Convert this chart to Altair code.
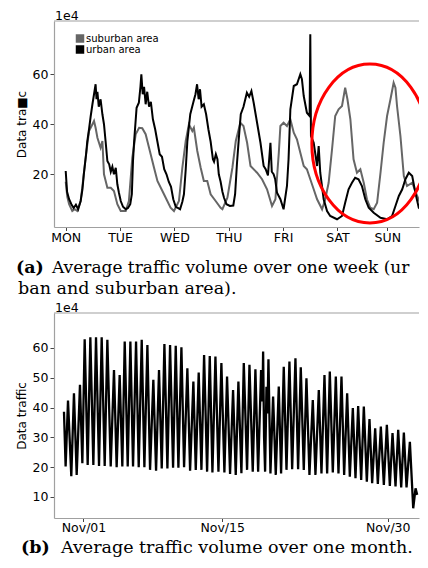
import altair as alt
import pandas as pd

FONT = "DejaVu Sans"
SERIF = "DejaVu Serif"
SPINE = "#a0a0a0"
TICK = "#444444"

# ---------------- (a) one week ----------------
week_hours_urban = [0, 0.6, 1.5, 2.5, 3.5, 4.5, 5.5, 6.6, 7.4, 8, 9, 9.5, 10.3, 11, 11.8, 12.5, 13.2, 13.6, 14, 14.6,
                    15.4, 16.2, 16.9, 17.6, 18.4, 19.2, 19.9, 20.6, 21.3, 22.1, 22.8, 23.5, 24.3, 25.3, 26.5, 27.5,
                    28.5, 29.2, 29.7, 30.2, 31.3, 32.3, 33, 33.4, 34, 34.6, 35.3, 36, 36.8, 37.6, 38.5, 39.5, 40.5,
                    41.5, 42.5, 43.5, 44.5, 45.5, 46.5, 47.5, 48.6, 49.5, 50.5, 51.5, 52.2, 53, 53.7, 55, 56.5, 57.3,
                    58, 58.7, 59.3, 60, 61, 62, 63, 64, 65, 65.5, 66.3, 67, 67.6, 68.4, 69.2, 69.9, 71, 72.5, 74,
                    74.8, 75.6, 76.5, 77.3, 78.5, 80, 81, 82, 83, 84.5, 86, 87.4, 88.3, 89.3, 90.4, 91, 91.8, 92.5,
                    93.3, 94.8, 96.2, 97.7, 98.4, 99.2, 100.7, 102.1, 103.6, 104.3, 105.1, 106.5, 107.7, 108, 108.3,
                    109.5, 111, 111.7, 112.4, 113.9, 115.4, 116.8, 119.8, 122, 123.4, 124.9, 126.4, 127.8, 129.3,
                    130.8, 132.3, 133.8, 136, 139, 141.9, 144.1, 145.6, 147.1, 148.6, 150, 151.5, 153, 154.4, 155.9,
                    157.4, 158.6]
week_urban = [21.3, 13, 10, 8, 6.5, 7.8, 6, 9.3, 14, 20, 28, 33, 38, 43, 48, 52, 56, 50, 53, 47,
              50, 44, 40, 33.3, 25.3, 24, 21, 23, 20, 22.6, 16, 12.6, 9.3, 7, 6, 6.5,
              8, 12, 25, 33, 46.6, 48.6, 55, 60, 52, 55, 48, 53, 47, 49, 42, 38, 33,
              28, 27, 22, 20, 17, 15, 10, 7, 6.5, 6, 9, 12, 22, 33, 44, 49.3, 52,
              56, 50, 54, 47, 48, 44, 38, 33, 26, 25, 28, 26, 20, 17, 13, 10.6, 8, 7.3, 7.5,
              12, 24, 35, 44, 47, 52.6, 51, 53.3, 48.6, 40.6, 32.6, 23.3, 22, 19.5, 32.6, 21, 20, 18,
              12.6, 10, 6, 15.3, 26, 46, 55.3, 56, 60, 58, 51.3, 44.6, 43.3, 76, 35.3,
              32.6, 23.3, 31.3, 20.6, 10, 5.3, 3.3, 2, 3.3, 8.6, 14, 16.6, 18.6, 18,
              15.3, 10, 6.6, 4.6, 2.6, 2, 3.3, 7.3, 11.3, 14, 18, 20.6, 19.3, 12.6, 6.6,
              5.3, 5.3]

week_hours_suburban = [0, 0.7, 1.5, 2.9, 4, 5.1, 6.6, 7.3, 8.8, 10.3, 11.8, 12.5, 13.2, 14, 15.4, 16.2, 16.9, 18.4,
                       19.9, 21.3, 22.8, 24.3, 26.5, 27.9, 29.4, 30.9, 32.4, 33.8, 35.3, 36.8, 39, 40.5, 43.4,
                       46.3, 47.8, 50, 51.5, 53, 54.4, 55.9, 56.6, 58.1, 59.6, 61, 62.5, 64, 66.2, 68.4, 69.2,
                       71.4, 73.6, 75.1, 77.1, 78.5, 80.1, 81.6, 84.5, 86.7, 88.9, 91.1, 92.6, 94.1, 94.8, 96.2,
                       97.7, 99.2, 100.7, 102.1, 103.6, 105.1, 106.5, 108, 109.5, 111, 113.2, 114.6, 116.1, 117.6,
                       119, 120.5, 122, 123.4, 124.4, 125.7, 127.1, 128.6, 130.1, 131.6, 133, 134.5, 136, 137.5,
                       139, 140.4, 141.9, 143.4, 144.8, 145.6, 146.3, 147.8, 149.3, 150.7, 153, 155.2, 157.4, 158.6]
week_suburban = [17, 11, 8, 5.3, 6, 5.3, 9.3, 14.6, 26.6, 37.3, 40, 41.3, 38.6, 34.6, 30.6, 33.3, 20, 14.6,
                 14.6, 13.3, 8, 5.3, 5.3, 9.3, 26.6, 36, 38.6, 38.4, 36, 30.6, 22.6, 17.3, 12,
                 6.6, 5.3, 9.3, 22.6, 33.3, 40, 37.3, 38.6, 29.3, 22.6, 17.3, 17.3, 12, 9.3, 6.6, 6,
                 10.6, 22.6, 33.3, 40.6, 39.3, 32.6, 23.3, 20.6, 18, 14, 7.3, 10, 28.6, 39.3, 40.6,
                 39.3, 42, 36.6, 34, 28.6, 23.3, 22, 18, 14, 10, 6, 10, 16.6, 30,
                 43.3, 46, 47.3, 54.6, 50, 42, 26, 20.6, 22, 16.6, 10, 6.6, 6, 8.6,
                 20.6, 32.6, 43.3, 50, 56.6, 54.6, 47.3, 35.3, 19.3, 15.3, 16.6, 11.3, 6.6, 5.5]

week_tick_hours = [0, 24, 48, 72, 96, 120, 142]
week_tick_labels = ["MON", "TUE", "WED", "THU", "FRI", "SAT", "SUN"]
week_y_ticks = [20, 40, 60]
series_names = ["suburban area", "urban area"]
series_colors = ["#666666", "#000000"]
highlight_hour = [134.3]
highlight_value = [32.3]

# ---------------- (b) one month ----------------
month_days = [0, 0.29, 0.71, 1.29, 1.76, 2.24, 2.82, 3.24, 3.65, 4.18, 4.65, 5.18, 5.65, 6.18, 6.65, 7.18, 7.65,
              8.24, 8.82, 9.29, 9.82, 10.29, 10.71, 11.24, 11.71, 12.18, 12.71, 13.18, 13.71, 14.18, 14.71,
              15.18, 15.76, 16.24, 16.76, 17.24, 17.71, 18.24, 18.71, 19.24, 19.71, 20.18, 20.71, 21.18, 21.76,
              22.24, 22.82, 23.24, 23.76, 24.24, 24.71, 25.24, 25.71, 26.18, 26.71, 27.24, 27.76, 28.29, 28.76,
              29.29, 29.82, 30.29, 30.76, 31.29, 31.71, 32.29, 32.71, 33.29, 33.76, 34.24, 34.76, 35.0, 35.12,
              35.29, 35.47, 35.71, 35.88, 36.06, 36.41, 36.88, 37.35, 37.88, 38.29, 38.76, 39.24, 39.76, 40.24,
              40.82, 41.29, 41.76, 42.29, 42.76, 43.29, 43.88, 44.35, 44.94, 45.41, 45.94, 46.41, 46.88, 47.41,
              47.94, 48.41, 48.94, 49.41, 49.94, 50.41, 50.94, 51.41, 51.88, 52.41, 52.88, 53.41, 53.88, 54.35,
              54.88, 55.35, 55.88, 56.41, 56.94, 57.47, 57.94, 58.47, 58.94, 59.47, 59.94, 60.41, 61.0, 61.59,
              62.0, 62.29]
month_traffic = [38.6, 20.2, 42.3, 17.0, 44.8, 17.4, 47.6, 21.3, 62.9, 20.7, 63.6, 20.7, 63.6, 20.4, 63.6, 20.4,
                 62.7, 20.2, 52.6, 20.0, 50.9, 20.2, 62.1, 20.2, 62.1, 20.2, 62.1, 20.0, 62.7, 20.0, 61.0,
                 19.1, 49.3, 18.8, 52.6, 19.6, 61.3, 19.6, 61.0, 19.8, 60.7, 19.8, 60.2, 20.0, 53.2,
                 18.8, 48.7, 19.1, 51.7, 19.1, 57.6, 18.5, 57.3, 18.2, 57.1, 18.5, 54.9, 18.2, 50.4,
                 17.7, 45.9, 17.4, 48.7, 18.0, 54.9, 19.1, 54.3, 18.5, 52.8, 18.5, 52.6, 42.0, 58.8,
                 30.0, 18.5, 47.0, 38.0, 56.2, 17.9, 43.7, 17.4, 47.0, 17.9, 53.7, 19.1, 55.4, 19.3,
                 56.5, 19.3, 53.5, 19.1, 49.8, 17.4, 42.5, 17.4, 45.9, 17.9, 50.9, 17.9, 52.1, 18.2,
                 50.4, 17.9, 50.4, 17.4, 44.8, 16.8, 39.8, 16.3, 40.5, 15.7, 40.3, 15.1, 36.1, 14.6,
                 33.0, 14.4, 33.6, 14.0, 34.2, 13.7, 31.4, 13.5, 32.5, 13.2, 31.6, 13.2, 28.5, 6.2,
                 12.9, 10.7]
month_tick_days = [3.44, 27.9, 57.1]
month_tick_labels = ["Nov/01", "Nov/15", "Nov/30"]
month_y_ticks = [10, 20, 30, 40, 50, 60]

caption_a_tag = ["(a)"]
caption_a_line1 = ["Average traffic volume over one week (ur"]
caption_a_line2 = ["ban and suburban area)."]
caption_b_tag = ["(b)"]
caption_b_line = ["Average traffic volume over one month."]
offset_label = ["1e4"]

W = 365
H1 = 206
H2 = 205


def label_expr(ticks, labels):
    parts = [f"abs(datum.value - {t}) < 0.01 ? '{l}'" for t, l in zip(ticks, labels)]
    return " : ".join(parts) + " : ''"


def text_layer(lines, x, y, font=SERIF, size=17.5, weight="normal", baseline="alphabetic"):
    return alt.Chart(pd.DataFrame({"t": lines})).mark_text(
        align="left", baseline=baseline, font=font, fontSize=size, fontWeight=weight, color="black"
    ).encode(x=alt.value(x), y=alt.value(y), text="t:N")


def offset_text():
    return text_layer(offset_label, 1, -5, font=FONT, size=12.5, baseline="middle")


def top_rule():
    return alt.Chart(pd.DataFrame({"a": [0]})).mark_rule(color=SPINE, strokeWidth=1.2).encode(
        x=alt.value(0), x2=alt.value(W), y=alt.value(0))


def legend_item(i, y):
    sq = alt.Chart(pd.DataFrame({"a": [0]})).mark_square(
        size=72, color=series_colors[i], opacity=1, filled=True).encode(x=alt.value(26), y=alt.value(y))
    tx = text_layer([series_names[i]], 32, y, font=FONT, size=10, baseline="middle")
    return [sq, tx]


# ---- week panel ----
week_df = pd.concat([
    pd.DataFrame({"hour": week_hours_suburban, "traffic": week_suburban, "area": series_names[0]}),
    pd.DataFrame({"hour": week_hours_urban, "traffic": week_urban, "area": series_names[1]}),
])

xw = alt.X("hour:Q", scale=alt.Scale(domain=[-5.17, 156.0], nice=False, zero=False),
           axis=alt.Axis(values=week_tick_hours, labelExpr=label_expr(week_tick_hours, week_tick_labels),
                         title=None, grid=False, tickSize=3.5, labelPadding=1))
yw = alt.Y("traffic:Q", scale=alt.Scale(domain=[-1.1, 81.3], nice=False, zero=False),
           axis=alt.Axis(values=week_y_ticks, title="Data tra\u25a0c", grid=False, tickSize=4,
                         labelPadding=2, titlePadding=4))
col = alt.Color("area:N", scale=alt.Scale(domain=series_names, range=series_colors), legend=None)

base = alt.Chart(week_df)
sub_line = base.transform_filter(alt.datum.area == series_names[0]).mark_line(
    strokeWidth=2, clip=True).encode(x=xw, y=yw, color=col)
urb_line = base.transform_filter(alt.datum.area == series_names[1]).mark_line(
    strokeWidth=2, clip=True).encode(x=xw, y=yw, color=col)

# red highlight ellipse around the weekend (centre in data units, path in symbol units)
ellipse = alt.Chart(pd.DataFrame({"hour": highlight_hour, "traffic": highlight_value})).mark_point(
    shape="M -0.7296 0 A 0.7296 1 0 1 0 0.7296 0 A 0.7296 1 0 1 0 -0.7296 0 Z",
    size=25281, filled=False, stroke="#ff0000", strokeWidth=3, opacity=1, clip=True
).encode(x=alt.X("hour:Q"), y=alt.Y("traffic:Q"))

week_chart = alt.layer(
    sub_line, urb_line, ellipse, top_rule(), offset_text(),
    *legend_item(0, 17.5), *legend_item(1, 28.5),
    text_layer(caption_a_tag, -38, H1 + 45.7, weight="bold"),
    text_layer(caption_a_line1, -2, H1 + 45.7, size=17.0),
    text_layer(caption_a_line2, -36, H1 + 67.3),
).properties(width=W, height=H1)

# ---- month panel ----
month_df = pd.DataFrame({"day": month_days, "traffic": month_traffic})
xm = alt.X("day:Q", scale=alt.Scale(domain=[-1.76, 62.61], nice=False, zero=False),
           axis=alt.Axis(values=month_tick_days, labelExpr=label_expr(month_tick_days, month_tick_labels),
                         title=None, grid=False, tickSize=3.5, labelPadding=0))
ym = alt.Y("traffic:Q", scale=alt.Scale(domain=[2.95, 71.7], nice=False, zero=False),
           axis=alt.Axis(values=month_y_ticks, title="Data traffic", grid=False, tickSize=4,
                         labelPadding=2, titlePadding=4))
month_line = alt.Chart(month_df).mark_line(color="black", strokeWidth=2.3, clip=True).encode(x=xm, y=ym)

month_chart = alt.layer(
    month_line, top_rule(), offset_text(),
    text_layer(caption_b_tag, -33, 240, weight="bold"),
    text_layer(caption_b_line, 7, 240),
).properties(width=W, height=H2)

chart = alt.vconcat(week_chart, month_chart, spacing=4).properties(
    padding={"left": 7, "top": 2, "right": 0, "bottom": 0}
).configure_view(stroke=None).configure_axis(
    domainColor=SPINE, domainWidth=1.2, tickColor=TICK, tickWidth=1,
    labelFont=FONT, labelFontSize=12.5, labelColor="black",
    titleFont=FONT, titleFontSize=12, titleFontWeight="normal", titleColor="black"
)

chart.save("out.html", embed_options={"renderer": "svg", "actions": False})
